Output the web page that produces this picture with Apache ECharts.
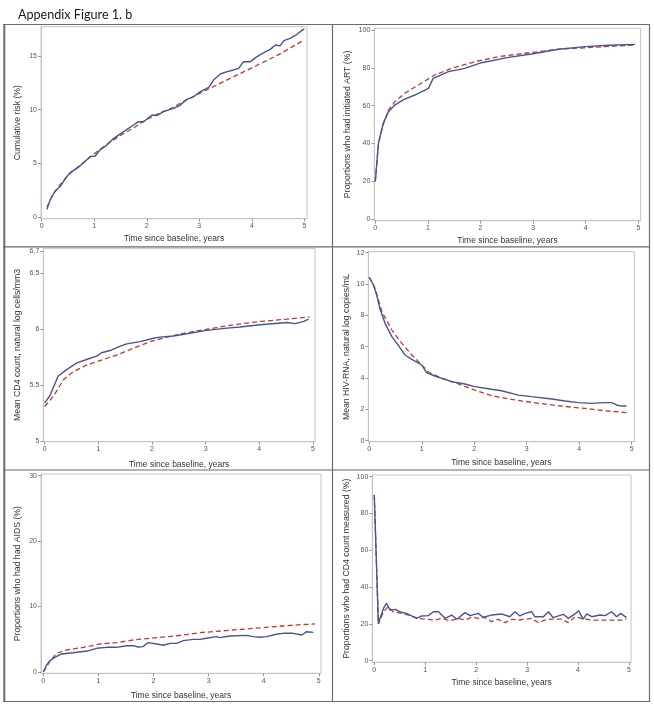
<!DOCTYPE html>
<html><head><meta charset="utf-8">
<script src="https://cdn.jsdelivr.net/npm/echarts@6/dist/echarts.min.js"></script>
<style>html,body{margin:0;padding:0;background:#fff}#c{width:654px;height:706px}</style>
</head><body><div id="c"></div>
<script>
// ---- data: [time (years), value] ----
const xTicks = [0, 1, 2, 3, 4, 5];
const xName = "Time since baseline, years";

const riskObserved = [[0.1,0.71],[0.16,1.58],[0.25,2.36],[0.35,2.83],[0.48,3.76],[0.54,4.13],[0.67,4.53],[0.79,5.0],[0.92,5.62],[1.02,5.68],[1.11,6.24],[1.24,6.7],[1.37,7.33],[1.56,7.95],[1.75,8.57],[1.84,8.88],[1.94,8.88],[2.1,9.5],[2.19,9.44],[2.32,9.81],[2.51,10.12],[2.64,10.43],[2.76,10.96],[2.89,11.2],[3.02,11.68],[3.18,12.08],[3.27,12.76],[3.4,13.32],[3.53,13.54],[3.65,13.7],[3.75,13.85],[3.84,14.47],[3.97,14.47],[4.1,14.94],[4.23,15.31],[4.35,15.62],[4.45,16.02],[4.54,15.96],[4.61,16.43],[4.73,16.65],[4.86,17.02],[4.96,17.42],[5.0,17.52]];
const riskPredicted = [[0.1,0.9],[0.2,2.0],[0.3,2.7],[0.4,3.3],[0.5,3.9],[0.6,4.3],[0.8,5.1],[1.0,5.9],[1.25,6.8],[1.5,7.6],[1.75,8.3],[2.0,9.1],[2.25,9.7],[2.5,10.2],[2.75,10.9],[3.0,11.5],[3.25,12.1],[3.5,12.7],[3.75,13.3],[4.0,13.9],[4.25,14.5],[4.5,15.1],[4.75,15.8],[5.0,16.5]];
const riskYTicks = [0, 5, 10, 15];

const artObserved = [[0,19.8],[0.06,40],[0.15,50.6],[0.25,56.8],[0.37,60.3],[0.53,63],[0.75,65.6],[1.01,69.1],[1.1,74.4],[1.39,78],[1.7,79.7],[2.02,82.7],[2.53,85.5],[2.97,87.3],[3.48,89.8],[3.99,91.2],[4.43,91.9],[4.94,92.4]];
const artPredicted = [[0,20],[0.06,40],[0.15,50],[0.25,57.7],[0.37,62],[0.56,66.5],[0.82,70.9],[1.13,76.2],[1.45,79.7],[1.89,83.2],[2.34,85.9],[2.85,87.7],[3.48,89.8],[4.11,90.8],[4.94,92.1]];
const artYTicks = [0, 20, 40, 60, 80, 100];

const cd4Observed = [[0,5.34],[0.1,5.41],[0.25,5.58],[0.41,5.64],[0.6,5.70],[0.78,5.73],[0.97,5.76],[1.06,5.79],[1.22,5.81],[1.41,5.85],[1.53,5.87],[1.78,5.89],[2.03,5.92],[2.15,5.93],[2.4,5.94],[2.65,5.96],[3.02,5.99],[3.4,6.01],[3.64,6.02],[4.02,6.04],[4.52,6.06],[4.67,6.05],[4.83,6.07],[4.92,6.09]];
const cd4Predicted = [[0,5.31],[0.16,5.40],[0.35,5.55],[0.53,5.62],[0.78,5.68],[1.03,5.72],[1.34,5.77],[1.65,5.83],[1.97,5.89],[2.28,5.93],[2.65,5.97],[3.02,6.0],[3.52,6.04],[4.02,6.07],[4.52,6.09],[4.94,6.11]];
const cd4YTicks = [5, 5.5, 6, 6.5, 6.7];

const rnaObserved = [[0,10.43],[0.08,9.94],[0.14,9.3],[0.2,8.45],[0.3,7.49],[0.43,6.64],[0.55,6.1],[0.68,5.47],[0.81,5.19],[1.0,4.83],[1.09,4.34],[1.25,4.13],[1.57,3.77],[1.82,3.62],[2.01,3.45],[2.33,3.28],[2.52,3.19],[2.84,2.91],[3.09,2.81],[3.48,2.66],[3.73,2.53],[3.98,2.43],[4.24,2.38],[4.49,2.43],[4.62,2.43],[4.71,2.28],[4.81,2.21],[4.9,2.21]];
const rnaPredicted = [[0,10.43],[0.11,9.72],[0.24,8.23],[0.43,7.06],[0.62,6.21],[0.81,5.47],[1.0,4.83],[1.12,4.4],[1.38,3.98],[1.7,3.62],[2.01,3.23],[2.33,2.87],[2.71,2.64],[3.09,2.45],[3.6,2.23],[4.11,2.06],[4.49,1.91],[4.9,1.79]];
const rnaYTicks = [0, 2, 4, 6, 8, 10, 12];

const aidsObserved = [[0,0],[0.06,1.07],[0.12,1.73],[0.21,2.24],[0.33,2.75],[0.54,2.95],[0.79,3.2],[0.97,3.62],[1.15,3.77],[1.33,3.77],[1.51,4.02],[1.63,4.02],[1.72,3.82],[1.81,3.87],[1.9,4.48],[2.06,4.28],[2.18,4.08],[2.3,4.38],[2.42,4.38],[2.54,4.79],[2.72,4.99],[2.84,4.99],[2.96,5.15],[3.14,5.4],[3.2,5.25],[3.39,5.5],[3.69,5.6],[3.81,5.4],[3.93,5.3],[4.05,5.4],[4.23,5.76],[4.35,5.91],[4.53,5.91],[4.69,5.65],[4.78,6.16],[4.9,6.06]];
const aidsPredicted = [[0,0],[0.12,1.63],[0.24,2.85],[0.42,3.36],[0.73,3.77],[1.03,4.28],[1.33,4.48],[1.63,4.89],[1.93,5.15],[2.24,5.4],[2.54,5.65],[2.84,6.01],[3.14,6.21],[3.45,6.42],[3.75,6.62],[4.05,6.83],[4.35,7.03],[4.66,7.23],[4.93,7.34]];
const aidsYTicks = [0, 10, 20, 30];

const measObserved = [[0,90],[0.08,20.3],[0.18,28.4],[0.24,31.2],[0.31,27.5],[0.41,27.9],[0.5,26.6],[0.63,25.7],[0.83,23],[0.93,24.3],[1.06,24.5],[1.16,26.6],[1.26,26.6],[1.39,23],[1.52,24.8],[1.62,22.5],[1.78,26.1],[1.88,24.5],[2.04,25.7],[2.14,23.6],[2.3,24.8],[2.5,25.4],[2.66,23.9],[2.76,26.6],[2.86,24.3],[2.96,25.7],[3.09,26.6],[3.15,23.9],[3.32,23.9],[3.42,26.6],[3.51,23.4],[3.71,25.2],[3.81,23],[3.94,25.4],[4.01,27.2],[4.1,22.6],[4.17,25.4],[4.27,23.9],[4.43,24.8],[4.53,24.5],[4.66,26.6],[4.76,23.9],[4.84,25.7],[4.95,23.4]];
const measPredicted = [[0,90],[0.08,19.9],[0.18,26.6],[0.27,29.3],[0.37,26.6],[0.54,25.7],[0.73,24.3],[0.86,23],[0.99,22.6],[1.19,22.1],[1.32,23],[1.49,21.7],[1.65,23],[1.78,22.1],[1.91,23.6],[2.04,23],[2.17,23.6],[2.3,21.2],[2.43,22.5],[2.57,20.7],[2.7,22.5],[2.83,22.1],[2.96,22.5],[3.09,23],[3.22,20.7],[3.35,22.1],[3.48,22.6],[3.68,22.6],[3.81,20.7],[3.94,23.9],[4.07,23],[4.27,22.1],[4.46,22.1],[4.66,22.1],[4.86,22.1],[4.95,22.6]];
const measYTicks = [0, 20, 40, 60, 80, 100];

// ---- layout ----
const panels = [
  {grid:{left:41,top:26.7,width:266,height:192}, xr:[-0.013,5.05], yr:[-0.16,17.73], yt:riskYTicks, yName:"Cumulative risk (%)", xGap:15.5, yGap:18.5, obs:riskObserved, pred:riskPredicted},
  {grid:{left:374.3,top:28.3,width:266.4,height:192.4}, xr:[-0.019,5.045], yr:[-0.9,100.9], yt:artYTicks, yName:"Proportions who had initiated ART (%)", xGap:15, yGap:22, obs:artObserved, pred:artPredicted},
  {grid:{left:43.3,top:248.3,width:271.7,height:193.4}, xr:[-0.026,5.04], yr:[4.996,6.723], yt:cd4YTicks, yName:"Mean CD4 count, natural log cells/mm3", xGap:18, yGap:21, obs:cd4Observed, pred:cd4Predicted},
  {grid:{left:368.3,top:251.7,width:266,height:190}, xr:[-0.019,5.05], yr:[-0.064,12.06], yt:rnaYTicks, yName:"Mean HIV-RNA, natural log copies/mL", xGap:16, yGap:17.5, obs:rnaObserved, pred:rnaPredicted},
  {grid:{left:41,top:474,width:280,height:199.3}, xr:[-0.042,5.04], yr:[-0.2,30.26], yt:aidsYTicks, yName:"Proportions who had had AIDS (%)", xGap:18, yGap:19, obs:aidsObserved, pred:aidsPredicted},
  {grid:{left:372.3,top:475,width:258.7,height:187.3}, xr:[-0.039,5.04], yr:[-0.87,100.9], yt:measYTicks, yName:"Proportions who had CD4 count measured (%)", xGap:15.5, yGap:21.5, obs:measObserved, pred:measPredicted}
];

const FRAME = '#c4c4c4';
const TICKTXT = '#555';
const NAMETXT = '#333';
const BLUE = '#445694';
const RED = '#bf3a30';

const grids = [], xAxes = [], yAxes = [], series = [];
panels.forEach((p, i) => {
  grids.push(Object.assign({show:true, borderColor:FRAME, borderWidth:1, backgroundColor:'#fff'}, p.grid));
  xAxes.push({
    type:'value', gridIndex:i, min:p.xr[0], max:p.xr[1],
    name:xName, nameLocation:'middle', nameGap:p.xGap,
    nameTextStyle:{fontFamily:'Liberation Sans', fontSize:8.5, color:NAMETXT},
    axisLine:{show:true, onZero:false, lineStyle:{color:FRAME, width:1}},
    axisTick:{show:true, length:3, lineStyle:{color:'#999'}, customValues:xTicks},
    axisLabel:{fontFamily:'Liberation Sans', fontSize:7, color:TICKTXT, margin:4, customValues:xTicks, showMinLabel:true, showMaxLabel:true},
    splitLine:{show:false}
  });
  yAxes.push({
    type:'value', gridIndex:i, min:p.yr[0], max:p.yr[1],
    name:p.yName, nameLocation:'middle', nameGap:p.yGap, nameRotate:90,
    nameTextStyle:{fontFamily:'Liberation Sans', fontSize:8.7, color:NAMETXT},
    axisLine:{show:true, onZero:false, lineStyle:{color:FRAME, width:1}},
    axisTick:{show:true, length:3, lineStyle:{color:'#999'}, customValues:p.yt},
    axisLabel:{fontFamily:'Liberation Sans', fontSize:7, color:TICKTXT, margin:4, customValues:p.yt},
    splitLine:{show:false}
  });
  series.push({type:'line', xAxisIndex:i, yAxisIndex:i, data:p.obs, symbol:'none', smooth:false,
    lineStyle:{color:BLUE, width:1.4}, clip:true, silent:true, z:3});
  series.push({type:'line', xAxisIndex:i, yAxisIndex:i, data:p.pred, symbol:'none', smooth:false,
    lineStyle:{color:RED, width:1.3, type:[5,3]}, clip:true, silent:true, z:2});
});

const BORDER = '#6b6b6b';
const graphic = [
  {type:'line', shape:{x1:3,y1:24.5,x2:650,y2:24.5}, style:{stroke:BORDER, lineWidth:1.2}},
  {type:'line', shape:{x1:4.3,y1:24,x2:4.3,y2:702}, style:{stroke:BORDER, lineWidth:2}},
  {type:'line', shape:{x1:649.5,y1:24,x2:649.5,y2:702}, style:{stroke:BORDER, lineWidth:1.2}},
  {type:'line', shape:{x1:332.5,y1:24,x2:332.5,y2:702}, style:{stroke:BORDER, lineWidth:1.2}},
  {type:'line', shape:{x1:3,y1:246.8,x2:650,y2:246.8}, style:{stroke:BORDER, lineWidth:1.2}},
  {type:'line', shape:{x1:3,y1:470,x2:650,y2:470}, style:{stroke:BORDER, lineWidth:1.2}},
  {type:'line', shape:{x1:3,y1:701.5,x2:650,y2:701.5}, style:{stroke:BORDER, lineWidth:1.2}}
];

const chart = echarts.init(document.getElementById('c'), null, {renderer:'canvas'});
chart.setOption({
  animation:false,
  backgroundColor:'#fff',
  title:{text:'Appendix Figure 1. b', left:13, top:3, textStyle:{fontFamily:'Lato', fontWeight:'normal', fontSize:12.6, color:'#1a1a1a'}},
  grid:grids, xAxis:xAxes, yAxis:yAxes, series:series, graphic:graphic
});
</script></body></html>
